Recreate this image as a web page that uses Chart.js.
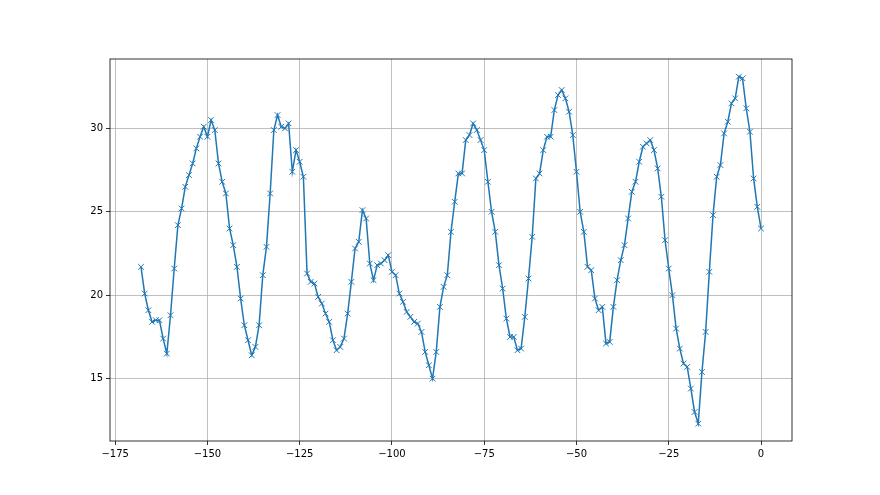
<!DOCTYPE html>
<html>
<head>
<meta charset="utf-8">
<script src="https://cdn.jsdelivr.net/npm/chart.js@4/dist/chart.umd.min.js"></script>
<style>
html,body{margin:0;padding:0;background:#fff;}
#wrap{width:880px;height:495px;}
</style>
</head>
<body>
<div id="wrap"><canvas id="c" width="880" height="495"></canvas></div>
<script>
const hours = [-168,-167,-166,-165,-164,-163,-162,-161,-160,-159,-158,-157,-156,-155,-154,-153,-152,-151,-150,-149,
-148,-147,-146,-145,-144,-143,-142,-141,-140,-139,-138,-137,-136,-135,-134,-133,-132,-131,-130,-129,
-128,-127,-126,-125,-124,-123,-122,-121,-120,-119,-118,-117,-116,-115,-114,-113,-112,-111,-110,-109,
-108,-107,-106,-105,-104,-103,-102,-101,-100,-99,-98,-97,-96,-95,-94,-93,-92,-91,-90,-89,
-88,-87,-86,-85,-84,-83,-82,-81,-80,-79,-78,-77,-76,-75,-74,-73,-72,-71,-70,-69,
-68,-67,-66,-65,-64,-63,-62,-61,-60,-59,-58,-57,-56,-55,-54,-53,-52,-51,-50,-49,
-48,-47,-46,-45,-44,-43,-42,-41,-40,-39,-38,-37,-36,-35,-34,-33,-32,-31,-30,-29,
-28,-27,-26,-25,-24,-23,-22,-21,-20,-19,-18,-17,-16,-15,-14,-13,-12,-11,-10,-9,
-8,-7,-6,-5,-4,-3,-2,-1,0];
const values = [21.7,20.1,19.1,18.4,18.5,18.5,17.4,16.5,18.8,21.6,
24.2,25.2,26.5,27.2,27.9,28.8,29.5,30.1,29.5,30.5,
29.9,27.9,26.8,26.1,24.0,23.0,21.7,19.8,18.2,17.3,
16.4,16.9,18.2,21.2,22.9,26.1,29.9,30.8,30.1,30.0,
30.3,27.4,28.7,28.0,27.1,21.3,20.8,20.7,19.9,19.5,
18.9,18.4,17.3,16.7,16.9,17.4,18.9,20.8,22.8,23.2,
25.1,24.6,21.9,20.9,21.8,21.9,22.1,22.4,21.4,21.2,
20.1,19.6,19.0,18.7,18.4,18.3,17.8,16.6,15.8,15.0,
16.6,19.3,20.5,21.2,23.8,25.6,27.3,27.3,29.3,29.6,
30.3,29.9,29.3,28.7,26.8,25.0,23.8,21.8,20.4,18.6,
17.5,17.5,16.7,16.8,18.7,21.0,23.5,27.0,27.3,28.7,
29.5,29.5,31.1,32.0,32.3,31.8,31.0,29.6,27.4,25.0,
23.8,21.7,21.5,19.8,19.1,19.3,17.1,17.2,19.3,20.9,
22.1,23.0,24.6,26.2,26.8,28.0,28.9,29.1,29.3,28.7,
27.6,25.9,23.3,21.6,20.0,18.0,16.8,15.9,15.7,14.4,
13.0,12.3,15.4,17.8,21.4,24.8,27.1,27.8,29.7,30.4,
31.5,31.8,33.1,33.0,31.2,29.8,27.0,25.3,24.0];
const xTicks = [-175,-150,-125,-100,-75,-50,-25,0];
const yTicks = [15,20,25,30];

const points = hours.map((h,i)=>({x:h,y:values[i]}));
const fmt = v => (v<0 ? '\u2212'+Math.abs(v) : String(v));

const frame = {
  id:'frame',
  afterDatasetsDraw(chart){
    const a = chart.chartArea, ctx = chart.ctx;
    ctx.save();
    ctx.strokeStyle = '#000';
    ctx.lineWidth = 0.8;
    ctx.strokeRect(a.left, a.top, a.right-a.left, a.bottom-a.top);
    ctx.restore();
  }
};

new Chart(document.getElementById('c'), {
  type:'line',
  data:{datasets:[{
    data:points,
    borderColor:'#1f77b4',
    backgroundColor:'#1f77b4',
    borderWidth:1.5,
    tension:0,
    pointStyle:'crossRot',
    pointRadius:4,
    pointBorderWidth:1,
    pointBorderColor:'#1f77b4',
    pointHoverRadius:4,
    fill:false
  }]},
  options:{
    responsive:false,
    animation:false,
    devicePixelRatio:1,
    layout:{padding:{left:0,top:59,right:88,bottom:0}},
    plugins:{legend:{display:false},tooltip:{enabled:false}},
    scales:{
      x:{
        type:'linear', min:-176.4, max:8.4,
        afterBuildTicks(s){ s.ticks = xTicks.map(v=>({value:v})); },
        afterFit(s){ s.height = 54; },
        grid:{color:'#b0b0b0', lineWidth:0.8, tickColor:'#000', tickLength:4, drawTicks:true},
        border:{display:false},
        ticks:{color:'#000', padding:3, maxRotation:0, font:{family:'DejaVu Sans', size:10}, callback:v=>fmt(v)}
      },
      y:{
        type:'linear', min:11.26, max:34.16,
        afterBuildTicks(s){ s.ticks = yTicks.map(v=>({value:v})); },
        afterFit(s){ s.width = 110; },
        grid:{color:'#b0b0b0', lineWidth:0.8, tickColor:'#000', tickLength:4, drawTicks:true},
        border:{display:false},
        ticks:{color:'#000', padding:3, font:{family:'DejaVu Sans', size:10}, callback:v=>fmt(v)}
      }
    }
  },
  plugins:[frame]
});
</script>
</body>
</html>
